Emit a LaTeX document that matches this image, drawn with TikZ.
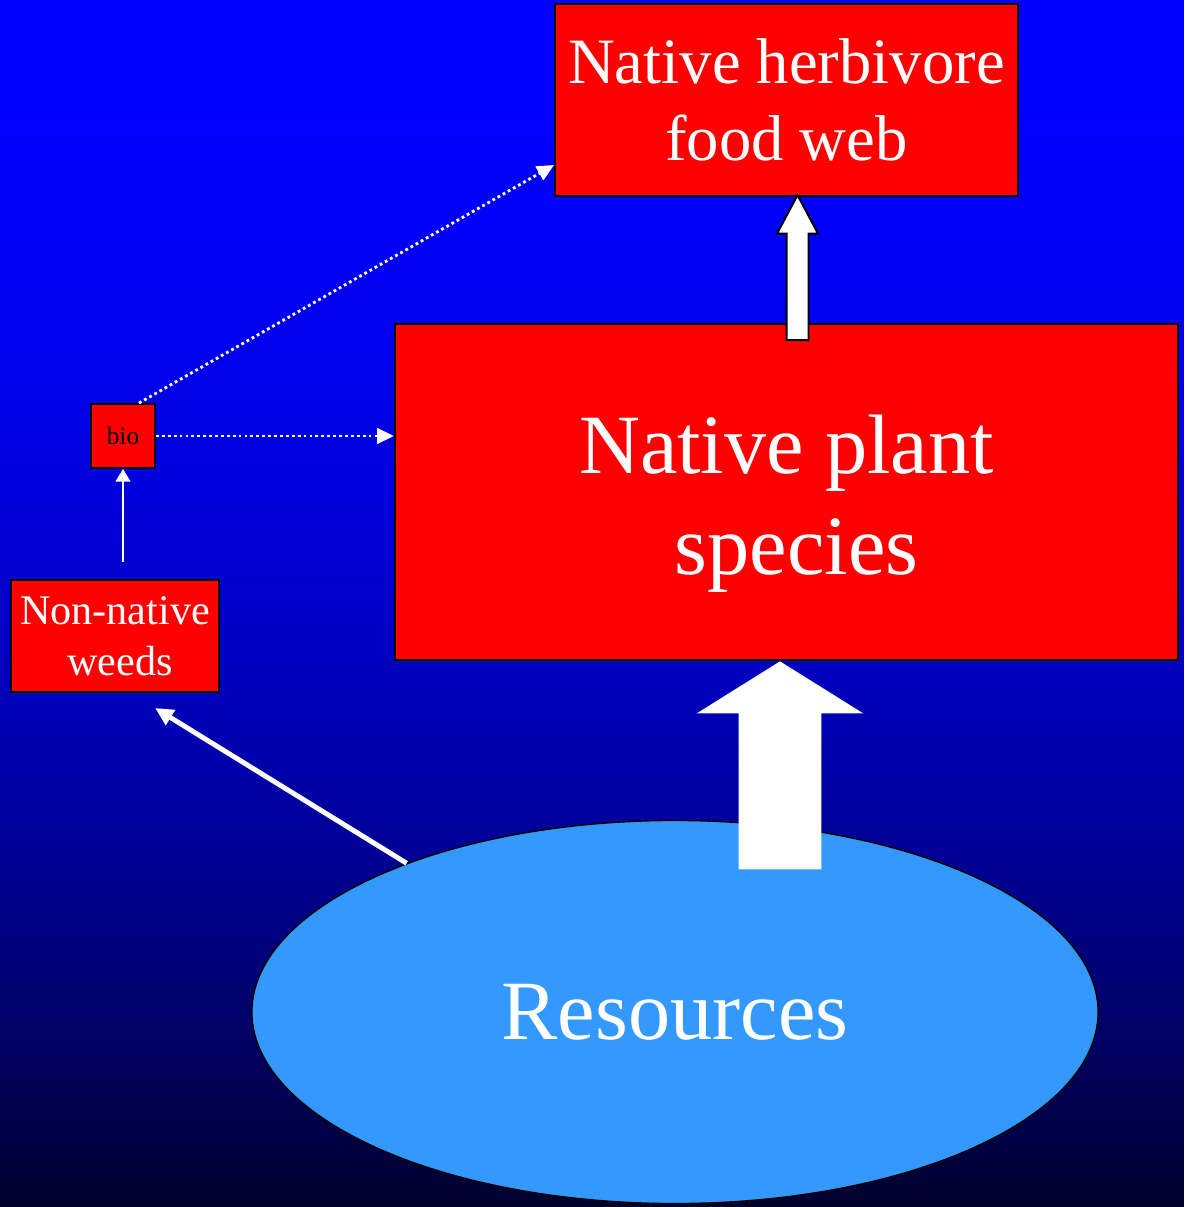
\documentclass[tikz,border=0pt]{standalone}
\usepackage{fontspec}
\setmainfont{Liberation Serif}
\usetikzlibrary{arrows.meta,shapes.geometric,shapes.arrows}
\definecolor{boxred}{RGB}{255,0,0}
\definecolor{resblue}{RGB}{51,153,255}

\begin{document}
\begin{tikzpicture}[x=0.025cm, y=-0.025cm,
  redbox/.style={draw=black, line width=1.4pt, fill=boxred, text=white,
    align=center, inner sep=0pt},
  thinarr/.style={white, line width=1.4pt, -{Triangle[length=9pt, width=10.5pt]}},
  thickarr/.style={white, line width=3.5pt, -{Triangle[length=13pt, width=12pt]}},
  dotarr/.style={white, line width=2pt, dash pattern=on 2pt off 2.2pt,
    -{Triangle[length=12pt, width=11pt]}},
  blockarr/.style={single arrow, fill=white, shape border rotate=90, anchor=tip}]
% Background
\useasboundingbox (0,0) rectangle (1184,1207);
\foreach \i in {0,...,60}{
  \pgfmathtruncatemacro\bl{255-210*((\i*20+10)/1207)^2}
  \fill[fill={rgb,255:red,0;green,0;blue,\bl}] (0,\i*20) rectangle (1184,\i*20+21);
}
% Nodes
\node[redbox, minimum width=11.575cm, minimum height=4.8cm,
  font=\fontsize{46}{55}\selectfont] (herb) at (786.5,100) {Native herbivore\\food web};
\node[redbox, minimum width=19.575cm, minimum height=8.4cm,
  font=\fontsize{60}{72}\selectfont] (plant) at (786.5,492)
  {\rule{0pt}{2.05cm}Native plant\\\hspace*{0.5cm}species};
\node[redbox, minimum width=5.2cm, minimum height=2.8cm,
  font=\fontsize{30}{36}\selectfont] (weeds) at (115,636)
  {Non-native\\\hspace*{0.25cm}weeds};
\node[redbox, text=black, minimum size=1.6cm,
  font=\fontsize{18}{20}\selectfont] (bio) at (123,436) {bio};
\node[ellipse, draw=black, line width=1pt, fill=resblue, text=white, inner sep=0pt,
  minimum width=21.15cm, minimum height=9.575cm,
  font=\fontsize{60}{72}\selectfont] (res) at (675,1012) {Resources};
% Block arrows
\node[blockarr, draw=black, line width=1.4pt, inner sep=0.25cm, minimum height=3.625cm,
  single arrow head extend=0.2375cm, single arrow tip angle=56] (up1)
  at ([xshift=0.275cm, yshift=0.1cm]herb.south) {};
\node[blockarr, inner sep=1.025cm, minimum height=5.2cm,
  single arrow head extend=1.05cm, single arrow tip angle=116] (up2)
  at ([xshift=-0.1625cm]plant.south) {};
% Thin arrows
\coordinate (wtip) at (155,708);
\draw[thickarr] (res.151) -- (wtip);
\draw[thinarr, shorten <=0.425cm] (weeds.north -| bio.south) -- (bio.south);
\draw[dotarr] (bio.east) -- (bio.east -| plant.west);
\draw[dotarr] ([xshift=0.4cm]bio.north) -- ([yshift=-1.625cm]herb.west);
\end{tikzpicture}
\end{document}
